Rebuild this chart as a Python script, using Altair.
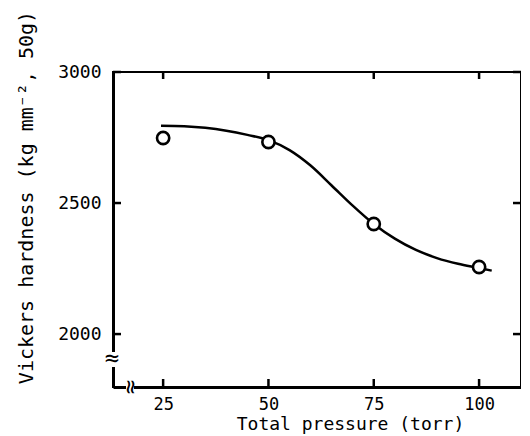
import altair as alt
import pandas as pd

# measured points
points_p = [25, 50, 75, 100]
points_h = [2748, 2733, 2420, 2256]

# fitted curve
curve_p = [24.5, 30, 35, 40, 45, 50, 55, 60, 65, 70, 75, 80, 85, 90, 95, 100, 103]
curve_h = [2795, 2793, 2787, 2776, 2760, 2740, 2702, 2643, 2567, 2490, 2420, 2364, 2321, 2290, 2268, 2252, 2242]

xticks = [25, 50, 75, 100]
yticks = [2000, 2500, 3000]

W, H = 408, 315
FONT = "DejaVu Sans Mono"

pts = pd.DataFrame({"p": points_p, "h": points_h})
crv = pd.DataFrame({"p": curve_p, "h": curve_h})
xt = pd.DataFrame({"p": xticks})
yt = pd.DataFrame({"h": yticks})

xs = alt.Scale(domain=[13.1, 109.95], nice=False, zero=False)
ys = alt.Scale(domain=[1798, 3000], nice=False, zero=False)

xaxis = alt.Axis(values=xticks, ticks=False, grid=False, domainWidth=3, domainColor="black",
                 format="d",
                 labelFont=FONT, labelFontSize=17, labelColor="black", labelPadding=9,
                 title="Total pressure (torr)", titleFont=FONT, titleFontSize=18,
                 titleFontWeight="normal", titleColor="black", titleX=237, titleY=37,
                 titleBaseline="middle", titleAlign="center")
yaxis = alt.Axis(values=yticks, ticks=False, grid=False, domainWidth=3, domainColor="black",
                 format="d",
                 labelFont=FONT, labelFontSize=18, labelColor="black", labelPadding=12,
                 labelBaseline="middle",
                 title="Vickers hardness (kg mm⁻², 50g)", titleFont=FONT, titleFontSize=20,
                 titleFontWeight="normal", titleColor="black", titleX=-87, titleY=125,
                 titleAngle=270, titleAlign="center", titleBaseline="middle")

curve = alt.Chart(crv).mark_line(color="black", strokeWidth=2.5, interpolate="monotone").encode(
    x=alt.X("p:Q", scale=xs, axis=xaxis),
    y=alt.Y("h:Q", scale=ys, axis=yaxis),
)

points = alt.Chart(pts).mark_point(shape="circle", size=150, filled=False, fill="white",
                                   fillOpacity=1, stroke="black", strokeWidth=2.6, opacity=1).encode(
    x=alt.X("p:Q", scale=xs), y=alt.Y("h:Q", scale=ys))

xt_bottom = alt.Chart(xt).mark_rule(color="black", strokeWidth=2.5).encode(
    x=alt.X("p:Q", scale=xs), y=alt.value(H), y2=alt.value(H - 8))
xt_top = alt.Chart(xt).mark_rule(color="black", strokeWidth=2.5).encode(
    x=alt.X("p:Q", scale=xs), y=alt.value(0), y2=alt.value(7))
yt_left = alt.Chart(yt).mark_rule(color="black", strokeWidth=2.5).encode(
    y=alt.Y("h:Q", scale=ys), x=alt.value(0), x2=alt.value(8))
yt_right = alt.Chart(yt).mark_rule(color="black", strokeWidth=2.5).encode(
    y=alt.Y("h:Q", scale=ys), x=alt.value(W), x2=alt.value(W - 8))

# axis breaks
brk_left_gap = alt.Chart(pd.DataFrame({"a": [0]})).mark_rule(color="white", strokeWidth=6).encode(
    x=alt.value(0), y=alt.value(280), y2=alt.value(295))
brk_left = alt.Chart(pd.DataFrame({"t": ["≈"]})).mark_text(
    font=FONT, fontSize=24, color="black", align="center", baseline="middle").encode(
    text="t:N", x=alt.value(-1), y=alt.value(287))
brk_bot_gap = alt.Chart(pd.DataFrame({"a": [0]})).mark_rule(color="white", strokeWidth=6).encode(
    y=alt.value(H), x=alt.value(13), x2=alt.value(21))
brk_bot = alt.Chart(pd.DataFrame({"t": ["≈"]})).mark_text(
    font=FONT, fontSize=24, color="black", align="center", baseline="middle", angle=90).encode(
    text="t:N", x=alt.value(17), y=alt.value(H))

chart = alt.layer(
    curve, points, xt_bottom, xt_top, yt_left, yt_right,
    brk_left_gap, brk_left, brk_bot_gap, brk_bot
).properties(
    width=W, height=H,
    autosize=alt.AutoSizeParams(type="none"),
    padding={"left": 105, "top": 64, "right": 0, "bottom": 49},
    background="white",
).configure_view(stroke="black", strokeWidth=2)

chart.save("out.html", embed_options={"renderer": "svg", "actions": False})
